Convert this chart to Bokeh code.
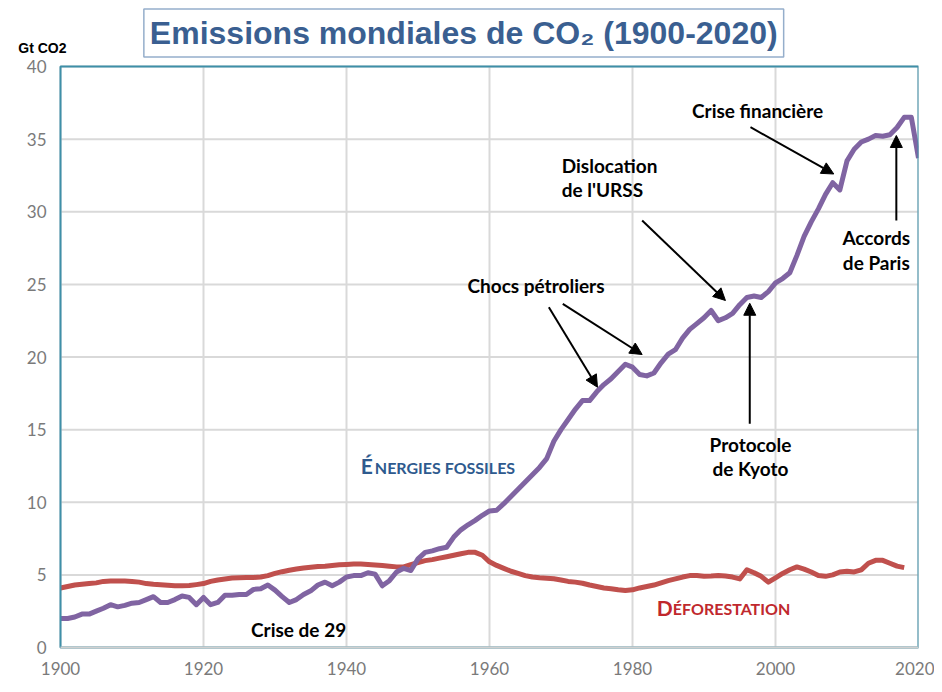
from bokeh.plotting import figure
from bokeh.models import Range1d, Label, Arrow, NormalHead, FixedTicker, ColumnDataSource
from bokeh.core.properties import value
from bokeh.embed import file_html
from bokeh.resources import INLINE

# ---------------- data ----------------
years_fossil = list(range(1900, 2021))
fossil = [
    2.0, 2.0, 2.1, 2.3, 2.3, 2.5, 2.7, 2.95, 2.8, 2.9,          # 1900-1909
    3.05, 3.1, 3.3, 3.5, 3.1, 3.1, 3.3, 3.55, 3.45, 2.95,       # 1910-1919
    3.45, 2.95, 3.1, 3.6, 3.6, 3.65, 3.65, 4.0, 4.05, 4.3,      # 1920-1929
    3.95, 3.5, 3.1, 3.3, 3.65, 3.9, 4.3, 4.5, 4.25, 4.5,        # 1930-1939
    4.85, 4.95, 4.95, 5.15, 5.05, 4.25, 4.6, 5.2, 5.45, 5.3,    # 1940-1949
    6.1, 6.55, 6.65, 6.8, 6.9, 7.6, 8.1, 8.45, 8.75, 9.1,       # 1950-1959
    9.4, 9.45, 9.9, 10.4, 10.9, 11.4, 11.9, 12.4, 13.0, 14.2,   # 1960-1969
    15.0, 15.7, 16.4, 17.0, 17.0, 17.6, 18.1, 18.5, 19.0, 19.5, # 1970-1979
    19.3, 18.8, 18.7, 18.9, 19.6, 20.2, 20.5, 21.3, 21.9, 22.3, # 1980-1989
    22.7, 23.2, 22.5, 22.7, 23.0, 23.6, 24.1, 24.2, 24.1, 24.5, # 1990-1999
    25.1, 25.4, 25.8, 27.0, 28.3, 29.3, 30.2, 31.2, 32.0, 31.5, # 2000-2009
    33.5, 34.3, 34.8, 35.0, 35.25, 35.2, 35.3, 35.8, 36.5, 36.5,# 2010-2019
    33.7,                                                        # 2020
]

years_defor = list(range(1900, 2019))
defor = [
    4.1, 4.2, 4.3, 4.35, 4.4, 4.45, 4.55, 4.57, 4.57, 4.57,     # 1900-1909
    4.55, 4.5, 4.4, 4.35, 4.32, 4.28, 4.25, 4.25, 4.27, 4.33,   # 1910-1919
    4.4, 4.55, 4.65, 4.72, 4.78, 4.8, 4.82, 4.82, 4.85, 4.95,   # 1920-1929
    5.1, 5.22, 5.32, 5.4, 5.47, 5.52, 5.57, 5.6, 5.65, 5.7,     # 1930-1939
    5.72, 5.75, 5.75, 5.72, 5.68, 5.65, 5.6, 5.55, 5.55, 5.7,   # 1940-1949
    5.85, 5.98, 6.05, 6.15, 6.25, 6.35, 6.45, 6.55, 6.55, 6.35, # 1950-1959
    5.9, 5.65, 5.45, 5.25, 5.1, 4.95, 4.85, 4.8, 4.77, 4.73,    # 1960-1969
    4.65, 4.55, 4.5, 4.42, 4.3, 4.2, 4.1, 4.05, 3.98, 3.93,     # 1970-1979
    3.97, 4.1, 4.2, 4.3, 4.45, 4.6, 4.72, 4.85, 4.95, 4.95,     # 1980-1989
    4.9, 4.92, 4.96, 4.92, 4.85, 4.72, 5.35, 5.15, 4.9, 4.5,    # 1990-1999
    4.8, 5.1, 5.35, 5.55, 5.4, 5.2, 4.95, 4.9, 5.0, 5.2,        # 2000-2009
    5.25, 5.2, 5.35, 5.8, 6.0, 6.0, 5.8, 5.6, 5.5,              # 2010-2018
]

x_ticks = [1900, 1920, 1940, 1960, 1980, 2000, 2020]
y_ticks = [0, 5, 10, 15, 20, 25, 30, 35, 40]
y_tick_labels = [str(v) for v in y_ticks]

TITLE = "Emissions mondiales de CO\u2082 (1900-2020)"
Y_UNIT = "Gt CO2"

# ---------------- geometry ----------------
W, H = 934, 684
BORDER_L, BORDER_R, BORDER_B = 12, 16, 27
PLOT_LEFT_PX, PLOT_TOP_PX, PLOT_BOTTOM_PX = 60, 66, 647   # visible chart box
X0, X1 = x_ticks[0], x_ticks[-1]
Y0, Y1 = y_ticks[0], y_ticks[-1]
frame_w = W - BORDER_L - BORDER_R
frame_h = H - BORDER_B
px_per_x = (frame_w - (PLOT_LEFT_PX - BORDER_L)) / (X1 - X0)
px_per_y = (PLOT_BOTTOM_PX - PLOT_TOP_PX) / (Y1 - Y0)
x_start = X0 - (PLOT_LEFT_PX - BORDER_L) / px_per_x
y_end = Y1 + PLOT_TOP_PX / px_per_y
y_start = Y0 - (frame_h - PLOT_BOTTOM_PX) / px_per_y

p = figure(width=W, height=H, output_backend="svg", toolbar_location=None,
           x_range=Range1d(x_start, X1), y_range=Range1d(y_start, y_end),
           min_border_left=BORDER_L, min_border_right=BORDER_R, min_border_top=0,
           min_border_bottom=BORDER_B, background_fill_color="white",
           border_fill_color="white", title_location=None)
p.outline_line_color = None
p.grid.visible = False
p.yaxis.visible = False

xa = p.xaxis[0]
xa.ticker = FixedTicker(ticks=x_ticks)
xa.bounds = (X0, X1)
xa.major_tick_out = 0
xa.major_tick_in = 0
xa.minor_tick_out = 0
xa.minor_tick_in = 0
xa.major_label_text_font = "Lato"
xa.major_label_text_font_size = "17px"
xa.major_label_text_color = "#7a7a7a"
xa.axis_line_color = None
xa.major_label_standoff = 4

# grid lines (from the tick lists)
p.segment(x0=x_ticks, y0=[Y0] * len(x_ticks), x1=x_ticks, y1=[Y1] * len(x_ticks),
          line_color="#d9d9d9", line_width=2)
p.segment(x0=[X0] * len(y_ticks), y0=y_ticks, x1=[X1] * len(y_ticks), y1=y_ticks,
          line_color="#d9d9d9", line_width=2)

# y tick labels
p.text(x=[X0] * len(y_ticks), y=y_ticks, text=y_tick_labels, x_offset=-14,
       text_align="right", text_baseline="middle", text_font=value("Lato"),
       text_font_size="17px", text_color="#7a7a7a")

# data lines
src_f = ColumnDataSource(dict(x=years_fossil, y=fossil))
src_d = ColumnDataSource(dict(x=years_defor, y=defor))
p.line("x", "y", source=src_d, line_color="#C0504D", line_width=5, line_join="round")
p.line("x", "y", source=src_f, line_color="#8064A2", line_width=5, line_join="round")

# chart box border (teal) with a grey base line
p.quad(left=[X0], right=[X1], bottom=[Y0], top=[Y1], fill_color=None,
       line_color="#3E8FA8", line_width=2)
p.segment(x0=[X0], y0=[Y0], x1=[X1], y1=[Y0], line_color="#d0d0d0", line_width=2)

# ---------------- texts ----------------
def lab(x, y, text, size="19px", color="black", style="bold", align="center",
        font="Lato", xoff=0, **kw):
    p.add_layout(Label(x=x, y=y, text=text, text_font=font, text_font_size=size,
                       text_color=color, text_font_style=style, text_align=align,
                       text_baseline="middle", x_offset=xoff, **kw))

# boxed title and unit
lab(1956.4, 42.31, TITLE, size="32px", color="#3A5F91", font="Liberation Sans",
    background_fill_color="white", border_line_color="#95AECB",
    border_line_width=1.5, padding=6)
lab(1894.1, 41.3, Y_UNIT, size="14px", font="Liberation Sans", align="left")

lab(1933.3, 1.25, "Crise de 29")
lab(1966.5, 24.9, "Chocs pétroliers")
lab(1970.1, 33.2, "Dislocation", align="left")
lab(1970.1, 31.5, "de l'URSS", align="left")
lab(1997.5, 37.0, "Crise financière")
lab(2014.1, 28.2, "Accords")
lab(2014.1, 26.5, "de Paris")
lab(1996.5, 14.0, "Protocole")
lab(1996.5, 12.35, "de Kyoto")

# small-caps labels
lab(1942.0, 12.5, "É", size="21px", color="#2E5A8E", align="left")
lab(1942.0, 12.42, "NERGIES FOSSILES", size="16px", color="#2E5A8E",
    align="left", xoff=14)
lab(1983.4, 2.75, "D", size="21px", color="#C0282D", align="left")
lab(1983.4, 2.67, "ÉFORESTATION", size="16px", color="#C0282D",
    align="left", xoff=16)

# arrows
arrows = [
    (1968.3, 23.43, 1975.1, 17.92),
    (1970.25, 23.66, 1981.35, 20.17),
    (1981.35, 29.4, 1993.0, 23.89),
    (1996.4, 15.4, 1996.4, 23.7),
    (1996.5, 35.82, 2008.15, 32.6),
    (2016.9, 29.4, 2016.9, 35.25),
]
for xs, ys, xe, ye in arrows:
    p.add_layout(Arrow(end=NormalHead(size=12, fill_color="black", line_color="black"),
                       x_start=xs, y_start=ys, x_end=xe, y_end=ye,
                       line_color="black", line_width=2))

open("out.html", "w").write(file_html(p, INLINE))
